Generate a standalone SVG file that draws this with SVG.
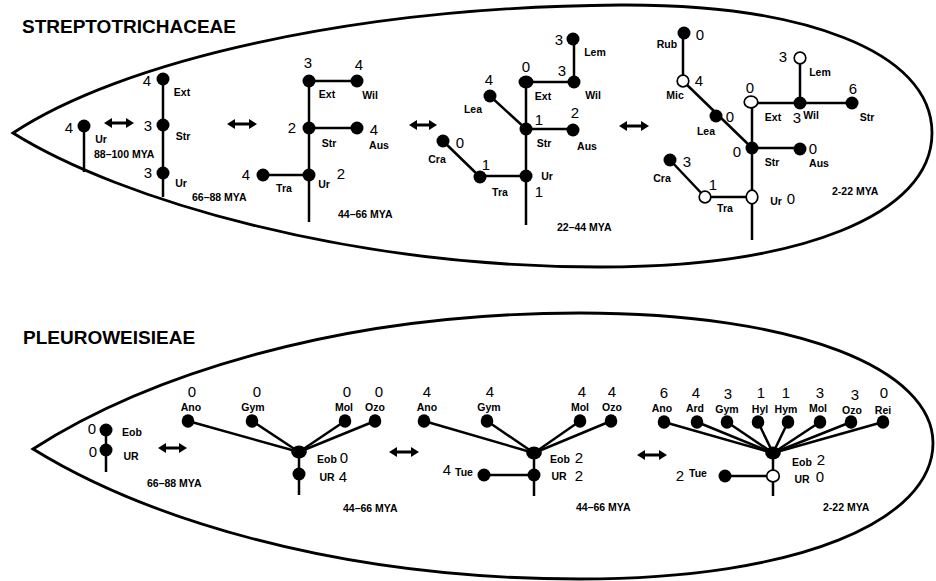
<svg xmlns="http://www.w3.org/2000/svg" width="936" height="581" viewBox="0 0 936 581">
<defs>
<style>
.outline{fill:none;stroke:#000;stroke-width:2.8}
.e{stroke:#000;stroke-width:2.5;fill:none}
.arr{stroke:#000;stroke-width:3;fill:none}
.n{fill:#000}
.o{fill:#fff;stroke:#000;stroke-width:1.7}
text{font-family:"Liberation Sans",Arial,sans-serif;fill:#000}
.num{font-size:15px;text-anchor:middle}
.lab{font-size:10.5px;font-weight:bold;text-anchor:middle}
.mya{font-size:10.5px;font-weight:bold}
.title{font-size:19px;font-weight:bold}
</style>
<marker id="ah" viewBox="0 0 8 10" refX="5" refY="5" markerWidth="8" markerHeight="10" markerUnits="userSpaceOnUse" orient="auto-start-reverse">
<path d="M0,0 L8,5 L0,10 Z" fill="#000"/>
</marker>
</defs>
<rect width="936" height="581" fill="#fff"/>

<path class="outline" d="M13,133 C120,62 350,7 620,5 C800,4 932,50 932,133 C932,215 800,267 600,267 C350,267 120,200 13,133 Z"/>
<path class="outline" d="M33,449 C140,380 330,313 580,313 C800,313 933,370 933,443 C933,520 800,579 580,579 C330,579 140,515 33,449 Z"/>
<text class="title" x="22" y="33">STREPTOTRICHACEAE</text>
<text class="title" x="23" y="344">PLEUROWEISIEAE</text>

<g id="connectors">
<line class="e" x1="84" y1="126" x2="84" y2="172"/>
<line class="e" x1="163" y1="79" x2="163" y2="197"/>
<line class="e" x1="309" y1="81" x2="309" y2="222"/>
<line class="e" x1="309" y1="81" x2="357" y2="81"/>
<line class="e" x1="309" y1="128" x2="357" y2="128"/>
<line class="e" x1="263" y1="175" x2="309" y2="175"/>
<line class="e" x1="526" y1="82" x2="526" y2="225"/>
<line class="e" x1="526" y1="82" x2="574" y2="82"/>
<line class="e" x1="574" y1="39" x2="574" y2="82"/>
<line class="e" x1="490" y1="96" x2="526" y2="129"/>
<line class="e" x1="526" y1="129" x2="573" y2="129"/>
<line class="e" x1="443" y1="141" x2="480" y2="177"/>
<line class="e" x1="480" y1="176" x2="526" y2="176"/>
<line class="e" x1="683" y1="33" x2="683" y2="81"/>
<line class="e" x1="683" y1="81" x2="752" y2="148"/>
<line class="e" x1="752" y1="102" x2="752" y2="240"/>
<line class="e" x1="751" y1="103" x2="852" y2="103"/>
<line class="e" x1="800" y1="58" x2="800" y2="103"/>
<line class="e" x1="752" y1="148" x2="800" y2="148"/>
<line class="e" x1="670" y1="160" x2="705" y2="197"/>
<line class="e" x1="705" y1="197" x2="752" y2="197"/>
<line class="e" x1="106" y1="430" x2="106" y2="472"/>
<line class="e" x1="188" y1="421" x2="299" y2="452"/>
<line class="e" x1="252" y1="421" x2="299" y2="452"/>
<line class="e" x1="345" y1="421" x2="299" y2="452"/>
<line class="e" x1="375" y1="421" x2="299" y2="452"/>
<line class="e" x1="299" y1="452" x2="299" y2="495"/>
<line class="e" x1="424" y1="421" x2="534" y2="453"/>
<line class="e" x1="487" y1="421" x2="534" y2="453"/>
<line class="e" x1="580" y1="421" x2="534" y2="453"/>
<line class="e" x1="611" y1="421" x2="534" y2="453"/>
<line class="e" x1="534" y1="453" x2="534" y2="496"/>
<line class="e" x1="484" y1="475" x2="534" y2="475"/>
<line class="e" x1="664" y1="422" x2="773" y2="453"/>
<line class="e" x1="697" y1="422" x2="773" y2="453"/>
<line class="e" x1="727" y1="422" x2="773" y2="453"/>
<line class="e" x1="758" y1="422" x2="773" y2="453"/>
<line class="e" x1="788" y1="422" x2="773" y2="453"/>
<line class="e" x1="820" y1="422" x2="773" y2="453"/>
<line class="e" x1="851" y1="422" x2="773" y2="453"/>
<line class="e" x1="883" y1="422" x2="773" y2="453"/>
<line class="e" x1="773" y1="453" x2="773" y2="496"/>
<line class="e" x1="725" y1="476" x2="773" y2="476"/>
<line class="arr" x1="107" y1="123" x2="131" y2="123" marker-start="url(#ah)" marker-end="url(#ah)"/>
<line class="arr" x1="230" y1="124" x2="254" y2="124" marker-start="url(#ah)" marker-end="url(#ah)"/>
<line class="arr" x1="412" y1="125" x2="434" y2="125" marker-start="url(#ah)" marker-end="url(#ah)"/>
<line class="arr" x1="622" y1="126" x2="646" y2="126" marker-start="url(#ah)" marker-end="url(#ah)"/>
<line class="arr" x1="161" y1="448" x2="184" y2="448" marker-start="url(#ah)" marker-end="url(#ah)"/>
<line class="arr" x1="392" y1="452" x2="416" y2="452" marker-start="url(#ah)" marker-end="url(#ah)"/>
<line class="arr" x1="640" y1="455" x2="664" y2="455" marker-start="url(#ah)" marker-end="url(#ah)"/>
</g>

<g id="t1-ur"><circle class="n" cx="84" cy="126" r="6.5"/><text class="num" x="69" y="133">4</text><text class="lab" x="101" y="143">Ur</text></g>
<text class="mya" x="94" y="158">88–100 MYA</text>

<g id="t2-ext"><circle class="n" cx="163" cy="79" r="6.5"/><text class="num" x="147" y="86">4</text><text class="lab" x="182" y="96">Ext</text></g>
<g id="t2-str"><circle class="n" cx="163" cy="125" r="6.5"/><text class="num" x="148" y="131">3</text><text class="lab" x="183" y="140">Str</text></g>
<g id="t2-ur"><circle class="n" cx="163" cy="173" r="6.5"/><text class="num" x="148" y="178">3</text><text class="lab" x="181" y="187">Ur</text></g>
<text class="mya" x="192" y="201">66–88 MYA</text>

<g id="t3-ext"><circle class="n" cx="309" cy="81" r="6.5"/><text class="num" x="308" y="68">3</text><text class="lab" x="327" y="98">Ext</text></g>
<g id="t3-wil"><circle class="n" cx="357" cy="81" r="6.5"/><text class="num" x="359" y="70">4</text><text class="lab" x="370" y="99">Wil</text></g>
<g id="t3-str"><circle class="n" cx="309" cy="128" r="6.5"/><text class="num" x="292" y="133">2</text><text class="lab" x="329" y="147">Str</text></g>
<g id="t3-aus"><circle class="n" cx="357" cy="128" r="6.5"/><text class="num" x="374" y="135">4</text><text class="lab" x="379" y="149">Aus</text></g>
<g id="t3-ur"><circle class="n" cx="309" cy="175" r="6.5"/><text class="num" x="341" y="179">2</text><text class="lab" x="324" y="188">Ur</text></g>
<g id="t3-tra"><circle class="n" cx="263" cy="175" r="6.5"/><text class="num" x="246" y="180">4</text><text class="lab" x="284" y="192">Tra</text></g>
<text class="mya" x="338" y="218">44–66 MYA</text>

<g id="t4-ext"><ellipse class="n" cx="526" cy="82" rx="7.5" ry="6.5"/><text class="num" x="526" y="72">0</text><text class="lab" x="543" y="100">Ext</text></g>
<g id="t4-wil"><circle class="n" cx="574" cy="82" r="6.5"/><text class="num" x="562" y="76">3</text><text class="lab" x="593" y="99">Wil</text></g>
<g id="t4-lem"><circle class="n" cx="573" cy="39" r="6.5"/><text class="num" x="559" y="45">3</text><text class="lab" x="595" y="56">Lem</text></g>
<g id="t4-lea"><circle class="n" cx="490" cy="96" r="6.5"/><text class="num" x="489" y="85">4</text><text class="lab" x="473" y="113">Lea</text></g>
<g id="t4-str"><circle class="n" cx="526" cy="129" r="6.5"/><text class="num" x="539" y="125">1</text><text class="lab" x="544" y="147">Str</text></g>
<g id="t4-aus"><circle class="n" cx="573" cy="130" r="6.5"/><text class="num" x="575" y="118">2</text><text class="lab" x="587" y="150">Aus</text></g>
<g id="t4-ur"><circle class="n" cx="526" cy="176" r="6.5"/><text class="num" x="539" y="197">1</text><text class="lab" x="547" y="180">Ur</text></g>
<g id="t4-tra"><circle class="n" cx="480" cy="177" r="6.5"/><text class="num" x="486" y="170">1</text><text class="lab" x="500" y="196">Tra</text></g>
<g id="t4-cra"><circle class="n" cx="443" cy="141" r="6.5"/><text class="num" x="460" y="148">0</text><text class="lab" x="437" y="163">Cra</text></g>
<text class="mya" x="557" y="231">22–44 MYA</text>

<g id="t5-rub"><circle class="n" cx="684" cy="33" r="6.5"/><text class="num" x="700" y="40">0</text><text class="lab" x="667" y="48">Rub</text></g>
<g id="t5-mic"><circle class="o" cx="683" cy="81" r="5.8"/><text class="num" x="699" y="86">4</text><text class="lab" x="675" y="99">Mic</text></g>
<g id="t5-lea"><circle class="n" cx="716" cy="116" r="6.5"/><text class="num" x="730" y="122">0</text><text class="lab" x="706" y="135">Lea</text></g>
<g id="t5-str"><circle class="n" cx="752" cy="148" r="6.5"/><text class="num" x="737" y="157">0</text><text class="lab" x="772" y="166">Str</text></g>
<g id="t5-ext"><ellipse class="o" cx="751" cy="102" rx="6.8" ry="5.8"/><text class="num" x="750" y="93">0</text><text class="lab" x="773" y="121">Ext</text></g>
<g id="t5-wil"><circle class="n" cx="800" cy="103" r="6.5"/><text class="num" x="797" y="123">3</text><text class="lab" x="811" y="119">Wil</text></g>
<g id="t5-str2"><circle class="n" cx="852" cy="103" r="6.5"/><text class="num" x="853" y="94">6</text><text class="lab" x="867" y="121">Str</text></g>
<g id="t5-lem"><circle class="o" cx="800" cy="58" r="5.8"/><text class="num" x="783" y="62">3</text><text class="lab" x="820" y="76">Lem</text></g>
<g id="t5-aus"><circle class="n" cx="800" cy="149" r="6.5"/><text class="num" x="813" y="154">0</text><text class="lab" x="819" y="167">Aus</text></g>
<g id="t5-ur"><ellipse class="o" cx="752" cy="197" rx="5.8" ry="6.8"/><text class="lab" x="776" y="205">Ur</text><text class="num" x="791" y="204">0</text></g>
<g id="t5-tra"><circle class="o" cx="705" cy="197" r="5.8"/><text class="num" x="713" y="190">1</text><text class="lab" x="725" y="212">Tra</text></g>
<g id="t5-cra"><circle class="n" cx="670" cy="160" r="6.5"/><text class="num" x="687" y="167">3</text><text class="lab" x="662" y="182">Cra</text></g>
<text class="mya" x="832" y="195">2-22 MYA</text>

<g id="b1-eob"><circle class="n" cx="106" cy="430" r="6.5"/><text class="num" x="92" y="434">0</text><text class="lab" x="132" y="436">Eob</text></g>
<g id="b1-ur"><circle class="n" cx="106" cy="450" r="6.5"/><text class="num" x="93" y="457">0</text><text class="lab" x="131" y="460">UR</text></g>
<text class="mya" x="147" y="487">66–88 MYA</text>

<g id="b2-ano"><ellipse class="n" cx="188" cy="421" rx="6.3" ry="6.8"/><text class="num" x="192" y="397">0</text><text class="lab" x="191" y="411">Ano</text></g>
<g id="b2-gym"><ellipse class="n" cx="252" cy="421" rx="6.3" ry="6.8"/><text class="num" x="257" y="397">0</text><text class="lab" x="253" y="411">Gym</text></g>
<g id="b2-mol"><ellipse class="n" cx="345" cy="421" rx="6.3" ry="6.8"/><text class="num" x="347" y="397">0</text><text class="lab" x="344" y="411">Mol</text></g>
<g id="b2-ozo"><ellipse class="n" cx="375" cy="421" rx="6.3" ry="6.8"/><text class="num" x="379" y="397">0</text><text class="lab" x="375" y="411">Ozo</text></g>
<g id="b2-eob"><ellipse class="n" cx="299" cy="452" rx="7.8" ry="6.5"/><text class="lab" x="327" y="463">Eob</text><text class="num" x="344" y="463">0</text></g>
<g id="b2-ur"><circle class="n" cx="299" cy="474" r="6.5"/><text class="lab" x="327" y="481">UR</text><text class="num" x="343" y="482">4</text></g>
<text class="mya" x="343" y="512">44–66 MYA</text>

<g id="b3-ano"><ellipse class="n" cx="424" cy="421" rx="6.3" ry="6.8"/><text class="num" x="427" y="397">4</text><text class="lab" x="427" y="411">Ano</text></g>
<g id="b3-gym"><ellipse class="n" cx="487" cy="421" rx="6.3" ry="6.8"/><text class="num" x="490" y="397">4</text><text class="lab" x="489" y="411">Gym</text></g>
<g id="b3-mol"><ellipse class="n" cx="580" cy="421" rx="6.3" ry="6.8"/><text class="num" x="582" y="397">4</text><text class="lab" x="580" y="411">Mol</text></g>
<g id="b3-ozo"><ellipse class="n" cx="611" cy="421" rx="6.3" ry="6.8"/><text class="num" x="612" y="397">4</text><text class="lab" x="612" y="411">Ozo</text></g>
<g id="b3-eob"><ellipse class="n" cx="534" cy="453" rx="7.8" ry="6.5"/><text class="lab" x="560" y="463">Eob</text><text class="num" x="579" y="463">2</text></g>
<g id="b3-ur"><circle class="n" cx="534" cy="475" r="6.5"/><text class="lab" x="559" y="480">UR</text><text class="num" x="579" y="481">2</text></g>
<g id="b3-tue"><circle class="n" cx="484" cy="475" r="6.5"/><text class="num" x="447" y="475">4</text><text class="lab" x="464" y="476">Tue</text></g>
<text class="mya" x="576" y="511">44–66 MYA</text>

<g id="b4-ano"><ellipse class="n" cx="664" cy="422" rx="6.3" ry="6.8"/><text class="num" x="664" y="398">6</text><text class="lab" x="662" y="412">Ano</text></g>
<g id="b4-ard"><ellipse class="n" cx="697" cy="422" rx="6.3" ry="6.8"/><text class="num" x="696" y="398">4</text><text class="lab" x="695" y="412">Ard</text></g>
<g id="b4-gym"><ellipse class="n" cx="727" cy="422" rx="6.3" ry="6.8"/><text class="num" x="728" y="399">3</text><text class="lab" x="727" y="413">Gym</text></g>
<g id="b4-hyl"><ellipse class="n" cx="758" cy="422" rx="6.3" ry="6.8"/><text class="num" x="761" y="398">1</text><text class="lab" x="760" y="413">Hyl</text></g>
<g id="b4-hym"><ellipse class="n" cx="788" cy="422" rx="6.3" ry="6.8"/><text class="num" x="786" y="398">1</text><text class="lab" x="786" y="413">Hym</text></g>
<g id="b4-mol"><ellipse class="n" cx="820" cy="422" rx="6.3" ry="6.8"/><text class="num" x="820" y="398">3</text><text class="lab" x="818" y="412">Mol</text></g>
<g id="b4-ozo"><ellipse class="n" cx="851" cy="422" rx="6.3" ry="6.8"/><text class="num" x="855" y="400">3</text><text class="lab" x="852" y="414">Ozo</text></g>
<g id="b4-rei"><ellipse class="n" cx="883" cy="422" rx="6.3" ry="6.8"/><text class="num" x="884" y="398">0</text><text class="lab" x="883" y="414">Rei</text></g>
<g id="b4-eob"><ellipse class="n" cx="773" cy="453" rx="7.8" ry="6.5"/><text class="lab" x="802" y="466">Eob</text><text class="num" x="821" y="465">2</text></g>
<g id="b4-ur"><ellipse class="o" cx="773" cy="476" rx="6.3" ry="5.8"/><text class="lab" x="802" y="483">UR</text><text class="num" x="820" y="482">0</text></g>
<g id="b4-tue"><circle class="n" cx="725" cy="476" r="6.5"/><text class="num" x="680" y="481">2</text><text class="lab" x="698" y="477">Tue</text></g>
<text class="mya" x="823" y="511">2-22 MYA</text>
</svg>
